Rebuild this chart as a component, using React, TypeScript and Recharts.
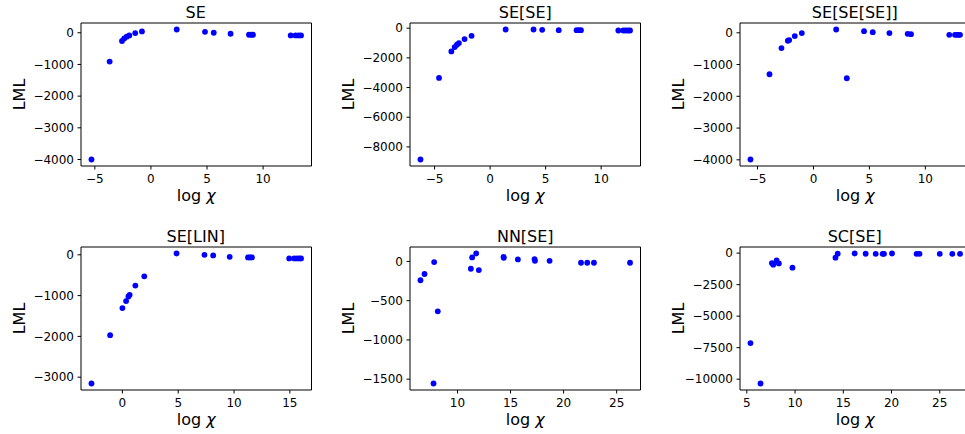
import React from "react";
import { ScatterChart, Scatter, XAxis, YAxis, ReferenceLine } from "recharts";

// ---- data ----
const seX = [-5.3, -3.68, -2.58, -2.38, -2.16, -1.93, -1.4, -0.8, 2.3, 4.82, 5.6, 7.1, 8.74, 8.95, 9.1, 12.46, 12.9, 13.17, 13.38];
const seY = [-4000, -910, -260, -178, -125, -85, -10, 41, 103, 31, 0, -31, -63, -63, -63, -84, -84, -84, -84];

const seSeX = [-6.27, -4.6, -3.49, -3.19, -2.99, -2.81, -2.3, -1.67, 1.4, 3.91, 4.69, 6.18, 7.79, 8.0, 8.18, 11.55, 12.0, 12.21, 12.42, 12.6];
const seSeY = [-8849, -3352, -1564, -1274, -1117, -1006, -737, -514, -89, -89, -112, -134, -134, -134, -134, -156, -156, -156, -156, -156];

const seSeSeX = [-5.63, -3.93, -2.86, -2.29, -2.17, -1.67, -1.04, 2.03, 2.98, 4.52, 5.3, 6.79, 8.42, 8.72, 12.14, 12.65, 12.83, 12.98, 13.1];
const seSeSeY = [-3990, -1305, -480, -251, -230, -104, -10, 104, -1431, 52, 21, -10, -31, -42, -63, -63, -63, -63, -63];

const seLinX = [-2.77, -1.1, 0.0, 0.33, 0.54, 0.65, 1.16, 1.96, 4.85, 7.35, 8.13, 9.61, 11.25, 11.43, 11.6, 14.94, 15.39, 15.63, 15.83, 16.0];
const seLinY = [-3155, -1971, -1306, -1135, -1022, -981, -754, -527, 32, 0, -16, -49, -65, -65, -65, -89, -89, -89, -89, -89];

const nnSeX = [6.51, 6.89, 7.8, 7.74, 8.14, 11.26, 11.38, 11.76, 12.01, 14.34, 14.36, 15.69, 17.26, 17.3, 18.68, 21.64, 22.23, 22.86, 26.26];
const nnSeY = [-240, -160, -8, -1555, -636, -93, 51, 101, -110, 59, 46, 25, 30, 8, 8, -17, -17, -17, -17];

const scSeX = [5.38, 6.42, 7.6, 7.74, 8.09, 8.32, 9.73, 14.19, 14.42, 16.18, 17.32, 18.36, 19.08, 19.22, 20.05, 22.6, 22.9, 25.0, 26.3, 27.1];
const scSeY = [-7132, -10342, -790, -916, -577, -814, -1153, -363, -47, -30, -50, -60, -60, -60, -30, -60, -60, -60, -60, -60];

const titles = ["SE", "SE[SE]", "SE[SE[SE]]", "SE[LIN]", "NN[SE]", "SC[SE]"];
const xTickSets = [
  [-5, 0, 5, 10],
  [-5, 0, 5, 10],
  [-5, 0, 5, 10],
  [0, 5, 10, 15],
  [10, 15, 20, 25],
  [5, 10, 15, 20, 25],
];
const yTickSets = [
  [-4000, -3000, -2000, -1000, 0],
  [-8000, -6000, -4000, -2000, 0],
  [-4000, -3000, -2000, -1000, 0],
  [-3000, -2000, -1000, 0],
  [-1500, -1000, -500, 0],
  [-10000, -7500, -5000, -2500, 0],
];
const xLabelText = "log ";
const xLabelSymbol = "χ";
const yLabelText = "LML";

// ---- layout ----
const FONT = '"DejaVu Sans", sans-serif';
const COL_LEFT = [80.5, 410, 739.5];
const ROW_TOP = [22.5, 246.5];
const PW = 230.5;
const PH = 143;
const YW = 75;
const TOPM = 30;
const XH = 45;
const RM = 5;

const fmt = (v: number) => (v < 0 ? "\u2212" + Math.abs(v) : String(v));

const domainOf = (arr: number[]): [number, number] => {
  const mn = Math.min(...arr);
  const mx = Math.max(...arr);
  const m = (mx - mn) * 0.05;
  return [mn - m, mx + m];
};

const Dot = (p: any) => <circle cx={p.cx} cy={p.cy} r={2.9} fill="#0000ff" />;

function Panel({ title, xs, ys, xTicks, yTicks, left, top }: any) {
  const data = xs.map((x: number, i: number) => ({ x, y: ys[i] }));
  const xd = domainOf(xs);
  const yd = domainOf(ys);
  const tickStyle = { fill: "#000", fontSize: 12, fontFamily: FONT };
  const xLabel = (props: any) => {
    const vb = props.viewBox;
    return (
      <text x={vb.x + vb.width / 2} y={vb.y + 35.3} textAnchor="middle" fontSize={16} fontFamily={FONT} fill="#000">
        {xLabelText}
        <tspan fontStyle="italic">{xLabelSymbol}</tspan>
      </text>
    );
  };
  const yLabel = (props: any) => {
    const vb = props.viewBox;
    const cx = vb.x + vb.width - 62;
    const cy = vb.y + vb.height / 2;
    return (
      <text x={cx} y={cy} transform={`rotate(-90, ${cx}, ${cy})`} textAnchor="middle" dominantBaseline="central" fontSize={16} fontFamily={FONT} fill="#000">
        {yLabelText}
      </text>
    );
  };
  return (
    <div style={{ position: "absolute", left: left - YW, top: top - TOPM }}>
      <ScatterChart width={YW + PW + RM} height={TOPM + PH + XH} margin={{ top: TOPM, right: RM, bottom: 0, left: 0 }}>
        <XAxis
          type="number"
          dataKey="x"
          domain={xd}
          ticks={xTicks}
          allowDataOverflow
          height={XH}
          tickSize={3.5}
          tickMargin={4.5}
          tickFormatter={fmt}
          tick={tickStyle}
          axisLine={{ stroke: "#000" }}
          tickLine={{ stroke: "#000" }}
          label={xLabel}
        />
        <YAxis
          type="number"
          dataKey="y"
          domain={yd}
          ticks={yTicks}
          allowDataOverflow
          width={YW}
          tickSize={3.5}
          tickMargin={3.5}
          tickFormatter={fmt}
          tick={tickStyle}
          axisLine={{ stroke: "#000" }}
          tickLine={{ stroke: "#000" }}
          label={yLabel}
        />
        <ReferenceLine y={yd[1]} stroke="#000" strokeWidth={1} ifOverflow="visible" />
        <ReferenceLine x={xd[1]} stroke="#000" strokeWidth={1} ifOverflow="visible" />
        <Scatter data={data} isAnimationActive={false} shape={Dot} />
      </ScatterChart>
      <div
        style={{
          position: "absolute",
          left: YW,
          top: 0,
          width: PW,
          height: TOPM - 5,
          display: "flex",
          alignItems: "flex-end",
          justifyContent: "center",
          fontFamily: FONT,
          fontSize: 16,
          lineHeight: "16px",
          color: "#000",
          whiteSpace: "nowrap",
        }}
      >
        <span style={{ position: "relative", top: 3 }}>{title}</span>
      </div>
    </div>
  );
}

const panels = [
  [seX, seY],
  [seSeX, seSeY],
  [seSeSeX, seSeSeY],
  [seLinX, seLinY],
  [nnSeX, nnSeY],
  [scSeX, scSeY],
];

export default function App() {
  return (
    <div style={{ position: "absolute", left: 0, top: 0, width: 965, height: 434, overflow: "hidden", background: "#fff" }}>
      {panels.map(([xs, ys], i) => (
        <Panel
          key={i}
          title={titles[i]}
          xs={xs}
          ys={ys}
          xTicks={xTickSets[i]}
          yTicks={yTickSets[i]}
          left={COL_LEFT[i % 3]}
          top={ROW_TOP[Math.floor(i / 3)]}
        />
      ))}
    </div>
  );
}
